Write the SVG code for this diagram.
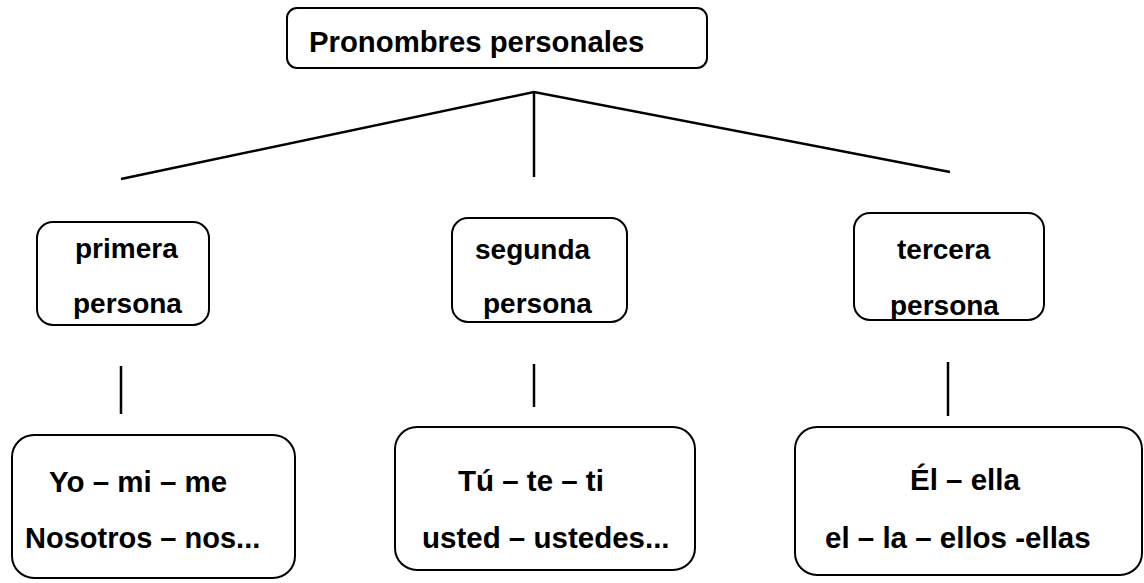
<svg xmlns="http://www.w3.org/2000/svg" width="1144" height="583" viewBox="0 0 1144 583">
<style>
.box{fill:#fff;stroke:#000;stroke-width:2}
.t{font-family:"Liberation Sans",Arial,sans-serif;font-weight:bold;font-size:28px;fill:#000}
.b{font-size:29.5px}
.h{font-size:29.3px}
.c{stroke:#000;stroke-width:2.5;fill:none}
</style>
<rect width="1144" height="583" fill="#fff"/>
<g id="connectors">
<polyline class="c" points="121,179 534,92 950,172"/>
<line class="c" x1="534" y1="92" x2="534" y2="177"/>
<line class="c" x1="121" y1="366" x2="121" y2="414"/>
<line class="c" x1="534" y1="364" x2="534" y2="407"/>
<line class="c" x1="948" y1="362" x2="948" y2="416"/>
</g>
<g id="root">
<rect class="box" x="287" y="8" width="420" height="60" rx="10"/>
<text class="t h" x="309" y="52">Pronombres personales</text>
</g>
<g id="primera">
<rect class="box" x="37" y="222" width="172" height="103" rx="16"/>
<text class="t" x="75" y="258">primera</text>
<text class="t" x="73" y="313">persona</text>
</g>
<g id="segunda">
<rect class="box" x="452" y="218" width="175" height="104" rx="16"/>
<text class="t" x="475" y="259">segunda</text>
<text class="t" x="483" y="313">persona</text>
</g>
<g id="tercera">
<rect class="box" x="854" y="213" width="190" height="107" rx="16"/>
<text class="t" x="897" y="259">tercera</text>
<text class="t" x="890" y="315">persona</text>
</g>
<g id="primera-ej">
<rect class="box" x="12" y="435" width="283" height="143" rx="22"/>
<text class="t b" x="49" y="492">Yo – mi – me</text>
<text class="t" x="25" y="548" style="font-size:29px">Nosotros – nos...</text>
</g>
<g id="segunda-ej">
<rect class="box" x="395" y="427" width="300" height="143" rx="22"/>
<text class="t b" x="458" y="491">Tú – te – ti</text>
<text class="t b" x="422" y="548">usted – ustedes...</text>
</g>
<g id="tercera-ej">
<rect class="box" x="795" y="427" width="347" height="148" rx="22"/>
<text class="t b" x="910" y="490">Él – ella</text>
<text class="t b" x="825" y="548">el – la – ellos -ellas</text>
</g>
</svg>
